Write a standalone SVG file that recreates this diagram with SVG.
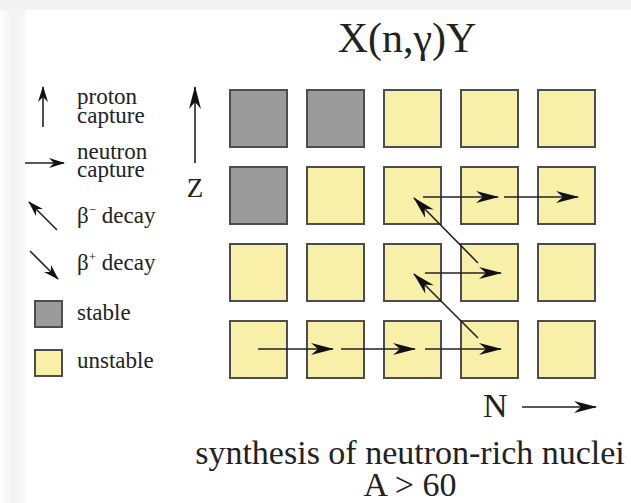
<svg xmlns="http://www.w3.org/2000/svg" width="631" height="503" viewBox="0 0 631 503">
<defs>
  <linearGradient id="lg" x1="0" y1="0" x2="1" y2="0">
    <stop offset="0" stop-color="#ffffff"/>
    <stop offset="0.5" stop-color="#f2f2f2"/>
    <stop offset="1" stop-color="#f7f7f7"/>
  </linearGradient>
  <marker id="ah" viewBox="0 0 16 10" refX="15" refY="5" markerWidth="16" markerHeight="10" markerUnits="userSpaceOnUse" orient="auto">
    <path d="M0,0 L16,5 L0,10 L5,5 Z" fill="#111"/>
  </marker>
  <marker id="ahb" viewBox="0 0 23 12" refX="22" refY="6" markerWidth="23" markerHeight="12" markerUnits="userSpaceOnUse" orient="auto">
    <path d="M0,0 L23,6 L0,12 L7,6 Z" fill="#111"/>
  </marker>
</defs>
<style>
  .st { fill: #9b9b9b; stroke: #4d4d4d; stroke-width: 2; }
  .un { fill: #f8f0a8; stroke: #4d4d4d; stroke-width: 2; }
  .ln { stroke: #222; stroke-width: 1.6; fill: none; marker-end: url(#ah); }
  .lnb { stroke: #222; stroke-width: 1.6; fill: none; marker-end: url(#ahb); }
  .t { font-family: "Liberation Serif", "Times New Roman", serif; fill: #222; }
  .lg { font-size: 23px; }
</style>
<rect x="0" y="0" width="631" height="503" fill="#ffffff"/>
<rect x="0" y="0" width="25" height="503" fill="url(#lg)"/>
<rect x="0" y="0" width="631" height="10" fill="#f3f3f3"/>

<g id="legend">
  <g id="leg-proton">
    <line class="ln" x1="43" y1="127" x2="43" y2="87"/>
    <text class="t lg" x="77" y="104">proton</text>
    <text class="t lg" x="77" y="123">capture</text>
  </g>
  <g id="leg-neutron">
    <line class="ln" x1="25" y1="163" x2="64" y2="163"/>
    <text class="t lg" x="77" y="159">neutron</text>
    <text class="t lg" x="77" y="177">capture</text>
  </g>
  <g id="leg-bminus">
    <line class="ln" x1="57" y1="230" x2="29" y2="202"/>
    <text class="t lg" x="77" y="223">β<tspan font-size="13" dy="-9">−</tspan><tspan dy="9"> decay</tspan></text>
  </g>
  <g id="leg-bplus">
    <line class="ln" x1="30" y1="251" x2="58" y2="279"/>
    <text class="t lg" x="77" y="270">β<tspan font-size="13" dy="-9">+</tspan><tspan dy="9"> decay</tspan></text>
  </g>
  <g id="leg-stable">
    <rect class="st" x="35" y="301" width="27" height="26"/>
    <text class="t lg" x="77" y="320">stable</text>
  </g>
  <g id="leg-unstable">
    <rect class="un" x="35" y="350" width="27" height="26"/>
    <text class="t lg" x="77" y="368">unstable</text>
  </g>
</g>

<text class="t" x="407" y="52" font-size="42" text-anchor="middle">X(n,γ)Y</text>

<g id="axis-z">
  <line class="lnb" x1="195" y1="163" x2="195" y2="87"/>
  <text class="t" x="195" y="197" font-size="27" text-anchor="middle">Z</text>
</g>
<g id="axis-n">
  <text class="t" x="483" y="417" font-size="34">N</text>
  <line class="lnb" x1="522" y1="407" x2="596" y2="407"/>
</g>

<g id="grid">
  <g id="r1c1"><rect class="st" x="230" y="90" width="57" height="57"/></g>
  <g id="r1c2"><rect class="st" x="307" y="90" width="57" height="57"/></g>
  <g id="r1c3"><rect class="un" x="384" y="90" width="57" height="57"/></g>
  <g id="r1c4"><rect class="un" x="461" y="90" width="57" height="57"/></g>
  <g id="r1c5"><rect class="un" x="538" y="90" width="57" height="57"/></g>
  <g id="r2c1"><rect class="st" x="230" y="167" width="57" height="57"/></g>
  <g id="r2c2"><rect class="un" x="307" y="167" width="57" height="57"/></g>
  <g id="r2c3"><rect class="un" x="384" y="167" width="57" height="57"/></g>
  <g id="r2c4"><rect class="un" x="461" y="167" width="57" height="57"/></g>
  <g id="r2c5"><rect class="un" x="538" y="167" width="57" height="57"/></g>
  <g id="r3c1"><rect class="un" x="230" y="244" width="57" height="57"/></g>
  <g id="r3c2"><rect class="un" x="307" y="244" width="57" height="57"/></g>
  <g id="r3c3"><rect class="un" x="384" y="244" width="57" height="57"/></g>
  <g id="r3c4"><rect class="un" x="461" y="244" width="57" height="57"/></g>
  <g id="r3c5"><rect class="un" x="538" y="244" width="57" height="57"/></g>
  <g id="r4c1"><rect class="un" x="230" y="321" width="57" height="57"/></g>
  <g id="r4c2"><rect class="un" x="307" y="321" width="57" height="57"/></g>
  <g id="r4c3"><rect class="un" x="384" y="321" width="57" height="57"/></g>
  <g id="r4c4"><rect class="un" x="461" y="321" width="57" height="57"/></g>
  <g id="r4c5"><rect class="un" x="538" y="321" width="57" height="57"/></g>
</g>

<g id="connectors">
  <line class="lnb" x1="258" y1="349" x2="333" y2="349"/>
  <line class="lnb" x1="341" y1="349" x2="415" y2="349"/>
  <line class="lnb" x1="425" y1="349" x2="501" y2="349"/>
  <line class="lnb" x1="478" y1="338" x2="414" y2="274"/>
  <line class="lnb" x1="425" y1="273" x2="501" y2="273"/>
  <line class="lnb" x1="478" y1="263" x2="414" y2="198"/>
  <line class="lnb" x1="423" y1="197" x2="498" y2="197"/>
  <line class="lnb" x1="504" y1="197" x2="578" y2="197"/>
</g>

<text class="t" x="410" y="464" font-size="34" text-anchor="middle">synthesis of neutron-rich nuclei</text>
<text class="t" x="410" y="496" font-size="34" text-anchor="middle">A &gt; 60</text>
</svg>
